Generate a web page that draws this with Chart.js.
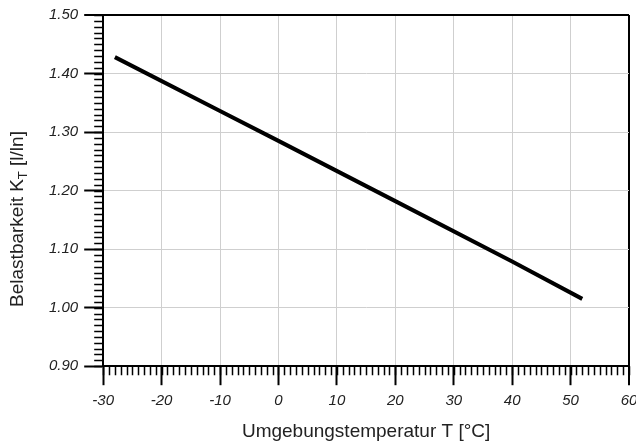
<!DOCTYPE html>
<html>
<head>
<meta charset="utf-8">
<script src="https://cdn.jsdelivr.net/npm/chart.js@4/dist/chart.umd.min.js"></script>
<style>
  html, body { margin: 0; padding: 0; background: #fff; }
  #wrap { width: 636px; height: 447px; }
</style>
</head>
<body>
<div id="wrap"><canvas id="myChart"></canvas></div>
<script>
// ambient temperature [°C] and load factor K_T
var temps = [-28, -10, 0, 20, 40, 52];
var loadFactor = [1.428, 1.336, 1.285, 1.182, 1.079, 1.015];

var xMin = -30, xMax = 60, xStep = 10, xMinor = 1;
var yMin = 0.90, yMax = 1.50, yStep = 0.10, yMinor = 0.01;

var fontFamily = "'Liberation Sans', Arial, sans-serif";

// minor tick marks + rotated y title with subscript
var extras = {
    id: "extras",
    afterDraw: function (chart) {
        var c = chart.ctx;
        var xs = chart.scales.x;
        var ys = chart.scales.y;
        var area = chart.chartArea;
        c.save();
        c.strokeStyle = "#000";
        c.lineWidth = 1.5;
        c.beginPath();
        for (var v = xMin; v <= xMax + 0.001; v += xMinor) {
            var px = Math.round(xs.getPixelForValue(v)) + 0.5;
            c.moveTo(px, area.bottom);
            c.lineTo(px, area.bottom + 9);
        }
        for (var k = 0; k <= Math.round((yMax - yMin) / yMinor); k++) {
            var py = Math.round(ys.getPixelForValue(yMin + k * yMinor)) + 0.5;
            c.moveTo(area.left, py);
            c.lineTo(area.left - 9, py);
        }
        c.stroke();

        // axis title: Belastbarkeit K_T [l/ln]
        c.translate(18, 219);
        c.rotate(-Math.PI / 2);
        c.fillStyle = "#222";
        c.textBaseline = "middle";
        var big = "19px " + fontFamily;
        var small = "13px " + fontFamily;
        var a = "Belastbarkeit K", b = "T", d = " [l/ln]";
        c.font = big;
        var wa = c.measureText(a).width, wd = c.measureText(d).width;
        c.font = small;
        var wb = c.measureText(b).width;
        var x0 = -(wa + wb + wd) / 2;
        c.font = big;
        c.fillText(a, x0, 0);
        c.font = small;
        c.fillText(b, x0 + wa, 5);
        c.font = big;
        c.fillText(d, x0 + wa + wb, 0);
        c.restore();
    }
};

var ctx = document.getElementById("myChart");
var myChart = new Chart(ctx, {
    type: "line",
    data: {
        datasets: [{
            data: temps.map(function (t, i) { return { x: t, y: loadFactor[i] }; }),
            borderColor: "#000",
            borderWidth: 4,
            pointRadius: 0,
            fill: false,
            tension: 0
        }]
    },
    options: {
        responsive: true,
        maintainAspectRatio: false,
        animation: false,
        layout: { padding: { left: 43, right: 7, top: 8, bottom: 4 } },
        plugins: { legend: { display: false }, tooltip: { enabled: false } },
        scales: {
            x: {
                type: "linear",
                min: xMin,
                max: xMax,
                afterFit: function (s) { s.paddingLeft = 0; s.paddingRight = 0; },
                ticks: {
                    stepSize: xStep,
                    padding: 7,
                    color: "#222",
                    font: { family: fontFamily, size: 15, style: "italic" },
                    maxRotation: 0
                },
                grid: {
                    color: function (c) { return c.tick && c.tick.value === xMax ? "#000" : "#cfcfcf"; },
                    lineWidth: function (c) { return c.tick && c.tick.value === xMax ? 2 : 1; },
                    tickColor: "#000",
                    tickWidth: 2,
                    tickLength: 19
                },
                border: { display: true, color: "#000", width: 2 },
                title: {
                    display: true,
                    text: "Umgebungstemperatur T [°C]",
                    color: "#222",
                    font: { family: fontFamily, size: 19 },
                    padding: { top: 3, bottom: 0 }
                }
            },
            y: {
                type: "linear",
                min: yMin,
                max: yMax,
                ticks: {
                    stepSize: yStep,
                    padding: 6,
                    color: "#222",
                    font: { family: fontFamily, size: 15, style: "italic" },
                    callback: function (v) { return v.toFixed(2); }
                },
                grid: {
                    color: function (c) { return c.tick && Math.abs(c.tick.value - yMax) < 1e-6 ? "#000" : "#cfcfcf"; },
                    lineWidth: function (c) { return c.tick && Math.abs(c.tick.value - yMax) < 1e-6 ? 2 : 1; },
                    tickColor: "#000",
                    tickWidth: 2,
                    tickLength: 19
                },
                border: { display: true, color: "#000", width: 2 }
            }
        }
    },
    plugins: [extras]
});
</script>
</body>
</html>
